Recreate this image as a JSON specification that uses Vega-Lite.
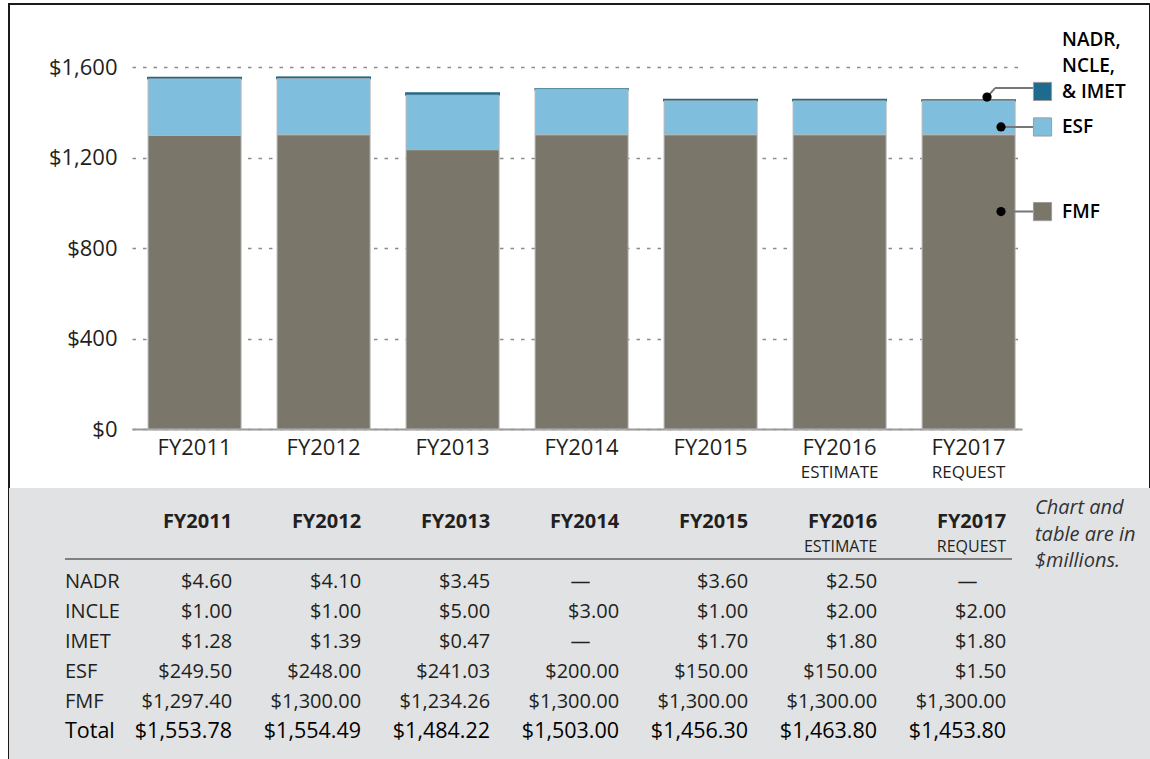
{
  "$schema": "https://vega.github.io/schema/vega-lite/v6.json",
  "width": 1141,
  "height": 755,
  "autosize": {"type": "none"},
  "padding": {"left": 9, "top": 4, "right": 0, "bottom": 0},
  "background": "white",
  "config": {
    "font": "Open Sans",
    "view": {"stroke": "#1a1a1a", "strokeWidth": 2},
    "text": {"color": "#231f20"}
  },
  "datasets": {
    "bars": [
      {"year": "FY2011", "program": "NADR", "group": "NADR, NCLE, & IMET", "value": 4.60},
      {"year": "FY2011", "program": "INCLE", "group": "NADR, NCLE, & IMET", "value": 1.00},
      {"year": "FY2011", "program": "IMET", "group": "NADR, NCLE, & IMET", "value": 1.28},
      {"year": "FY2011", "program": "ESF", "group": "ESF", "value": 249.50},
      {"year": "FY2011", "program": "FMF", "group": "FMF", "value": 1297.40},
      {"year": "FY2012", "program": "NADR", "group": "NADR, NCLE, & IMET", "value": 4.10},
      {"year": "FY2012", "program": "INCLE", "group": "NADR, NCLE, & IMET", "value": 1.00},
      {"year": "FY2012", "program": "IMET", "group": "NADR, NCLE, & IMET", "value": 1.39},
      {"year": "FY2012", "program": "ESF", "group": "ESF", "value": 248.00},
      {"year": "FY2012", "program": "FMF", "group": "FMF", "value": 1300.00},
      {"year": "FY2013", "program": "NADR", "group": "NADR, NCLE, & IMET", "value": 3.45},
      {"year": "FY2013", "program": "INCLE", "group": "NADR, NCLE, & IMET", "value": 5.00},
      {"year": "FY2013", "program": "IMET", "group": "NADR, NCLE, & IMET", "value": 0.47},
      {"year": "FY2013", "program": "ESF", "group": "ESF", "value": 241.03},
      {"year": "FY2013", "program": "FMF", "group": "FMF", "value": 1234.26},
      {"year": "FY2014", "program": "INCLE", "group": "NADR, NCLE, & IMET", "value": 3.00},
      {"year": "FY2014", "program": "ESF", "group": "ESF", "value": 200.00},
      {"year": "FY2014", "program": "FMF", "group": "FMF", "value": 1300.00},
      {"year": "FY2015", "program": "NADR", "group": "NADR, NCLE, & IMET", "value": 3.60},
      {"year": "FY2015", "program": "INCLE", "group": "NADR, NCLE, & IMET", "value": 1.00},
      {"year": "FY2015", "program": "IMET", "group": "NADR, NCLE, & IMET", "value": 1.70},
      {"year": "FY2015", "program": "ESF", "group": "ESF", "value": 150.00},
      {"year": "FY2015", "program": "FMF", "group": "FMF", "value": 1300.00},
      {"year": "FY2016", "program": "NADR", "group": "NADR, NCLE, & IMET", "value": 2.50},
      {"year": "FY2016", "program": "INCLE", "group": "NADR, NCLE, & IMET", "value": 2.00},
      {"year": "FY2016", "program": "IMET", "group": "NADR, NCLE, & IMET", "value": 1.80},
      {"year": "FY2016", "program": "ESF", "group": "ESF", "value": 150.00},
      {"year": "FY2016", "program": "FMF", "group": "FMF", "value": 1300.00},
      {"year": "FY2017", "program": "INCLE", "group": "NADR, NCLE, & IMET", "value": 2.00},
      {"year": "FY2017", "program": "IMET", "group": "NADR, NCLE, & IMET", "value": 1.80},
      {"year": "FY2017", "program": "ESF", "group": "ESF", "value": 150.00},
      {"year": "FY2017", "program": "FMF", "group": "FMF", "value": 1300.00}
    ],
    "years": [
      {"year": "FY2011", "sub": ""},
      {"year": "FY2012", "sub": ""},
      {"year": "FY2013", "sub": ""},
      {"year": "FY2014", "sub": ""},
      {"year": "FY2015", "sub": ""},
      {"year": "FY2016", "sub": "ESTIMATE"},
      {"year": "FY2017", "sub": "REQUEST"}
    ],
    "rows": [
      {"row": "NADR"}, {"row": "INCLE"}, {"row": "IMET"}, {"row": "ESF"}, {"row": "FMF"}, {"row": "Total"}
    ],
    "table": [
      {"year": "FY2011", "row": "NADR", "text": "$4.60"},
      {"year": "FY2011", "row": "INCLE", "text": "$1.00"},
      {"year": "FY2011", "row": "IMET", "text": "$1.28"},
      {"year": "FY2011", "row": "ESF", "text": "$249.50"},
      {"year": "FY2011", "row": "FMF", "text": "$1,297.40"},
      {"year": "FY2011", "row": "Total", "text": "$1,553.78"},
      {"year": "FY2012", "row": "NADR", "text": "$4.10"},
      {"year": "FY2012", "row": "INCLE", "text": "$1.00"},
      {"year": "FY2012", "row": "IMET", "text": "$1.39"},
      {"year": "FY2012", "row": "ESF", "text": "$248.00"},
      {"year": "FY2012", "row": "FMF", "text": "$1,300.00"},
      {"year": "FY2012", "row": "Total", "text": "$1,554.49"},
      {"year": "FY2013", "row": "NADR", "text": "$3.45"},
      {"year": "FY2013", "row": "INCLE", "text": "$5.00"},
      {"year": "FY2013", "row": "IMET", "text": "$0.47"},
      {"year": "FY2013", "row": "ESF", "text": "$241.03"},
      {"year": "FY2013", "row": "FMF", "text": "$1,234.26"},
      {"year": "FY2013", "row": "Total", "text": "$1,484.22"},
      {"year": "FY2014", "row": "NADR", "text": "—"},
      {"year": "FY2014", "row": "INCLE", "text": "$3.00"},
      {"year": "FY2014", "row": "IMET", "text": "—"},
      {"year": "FY2014", "row": "ESF", "text": "$200.00"},
      {"year": "FY2014", "row": "FMF", "text": "$1,300.00"},
      {"year": "FY2014", "row": "Total", "text": "$1,503.00"},
      {"year": "FY2015", "row": "NADR", "text": "$3.60"},
      {"year": "FY2015", "row": "INCLE", "text": "$1.00"},
      {"year": "FY2015", "row": "IMET", "text": "$1.70"},
      {"year": "FY2015", "row": "ESF", "text": "$150.00"},
      {"year": "FY2015", "row": "FMF", "text": "$1,300.00"},
      {"year": "FY2015", "row": "Total", "text": "$1,456.30"},
      {"year": "FY2016", "row": "NADR", "text": "$2.50"},
      {"year": "FY2016", "row": "INCLE", "text": "$2.00"},
      {"year": "FY2016", "row": "IMET", "text": "$1.80"},
      {"year": "FY2016", "row": "ESF", "text": "$150.00"},
      {"year": "FY2016", "row": "FMF", "text": "$1,300.00"},
      {"year": "FY2016", "row": "Total", "text": "$1,463.80"},
      {"year": "FY2017", "row": "NADR", "text": "—"},
      {"year": "FY2017", "row": "INCLE", "text": "$2.00"},
      {"year": "FY2017", "row": "IMET", "text": "$1.80"},
      {"year": "FY2017", "row": "ESF", "text": "$1.50"},
      {"year": "FY2017", "row": "FMF", "text": "$1,300.00"},
      {"year": "FY2017", "row": "Total", "text": "$1,453.80"}
    ]
  },
  "layer": [
    {
      "layer": [
        {
          "data": {"name": "bars"},
          "mark": {"type": "bar"},
          "encoding": {
            "x": {
              "field": "year", "type": "nominal", "title": null,
              "scale": {"domain": ["FY2011", "FY2012", "FY2013", "FY2014", "FY2015", "FY2016", "FY2017"], "range": [123, 1013], "paddingInner": 0.279, "paddingOuter": 0.089, "align": 0.7},
              "axis": {"orient": "bottom", "offset": -330, "labelAngle": 0, "labelFontSize": 22, "labelColor": "#231f20", "labelPadding": 8, "ticks": false, "tickSize": 0, "domainColor": "#9a9a9a", "domainWidth": 2, "grid": false}
            },
            "y": {
              "field": "value", "type": "quantitative", "stack": "zero", "title": null,
              "scale": {"domain": [0, 1600], "range": [425, 63], "nice": false, "zero": true},
              "axis": {"orient": "left", "offset": -123, "values": [0, 400, 800, 1200, 1600], "labelExpr": "'$' + format(datum.value, ',')", "labelFontSize": 22, "labelColor": "#231f20", "labelPadding": 15, "ticks": false, "tickSize": 0, "domain": false, "grid": true, "gridColor": "#8c8c8c", "gridDash": [3.5, 7], "gridWidth": 1.5}
            },
            "color": {"field": "group", "type": "nominal", "legend": null, "scale": {"domain": ["FMF", "ESF", "NADR, NCLE, & IMET"], "range": ["#7a766a", "#7fbfdd", "#1f6b8e"]}},
            "stroke": {"condition": {"test": "datum.group === 'NADR, NCLE, & IMET'", "value": "#1f6b8e"}, "value": "#b5b5b5"},
            "strokeWidth": {"condition": {"test": "datum.group === 'NADR, NCLE, & IMET'", "value": 1.6}, "value": 1},
            "order": {"field": "value", "sort": "descending"}
          }
        },
        {
          "data": {"name": "years"},
          "transform": [{"filter": "datum.sub !== ''"}],
          "mark": {"type": "text", "fontSize": 17, "baseline": "middle", "dy": 44},
          "encoding": {
            "x": {"field": "year", "type": "nominal", "title": null},
            "y": {"datum": 0},
            "text": {"field": "sub"}
          }
        },
        {
          "data": {"values": [{"label": "NADR,\nNCLE,\n& IMET", "group": "NADR, NCLE, & IMET"}]},
          "layer": [
            {"mark": {"type": "rule", "color": "#777777", "strokeWidth": 2, "xOffset": 18.4, "x2Offset": 26.4},
             "encoding": {"x": {"datum": "FY2017"}, "x2": {"datum": "FY2017"}, "y": {"datum": 1467}, "y2": {"datum": 1507}}},
            {"mark": {"type": "rule", "color": "#777777", "strokeWidth": 2, "xOffset": 26.4, "x2Offset": 64.4},
             "encoding": {"x": {"datum": "FY2017"}, "x2": {"datum": "FY2017"}, "y": {"datum": 1507}}},
            {"mark": {"type": "point", "filled": true, "color": "#000000", "opacity": 1, "size": 85, "xOffset": 18.4},
             "encoding": {"x": {"datum": "FY2017"}, "y": {"datum": 1467}}},
            {"mark": {"type": "point", "shape": "square", "filled": true, "opacity": 1, "size": 330, "stroke": "#9d9d9d", "strokeWidth": 1, "xOffset": 73.9},
             "encoding": {"x": {"datum": "FY2017"}, "y": {"datum": 1492}, "color": {"field": "group", "type": "nominal", "legend": null}}},
            {"mark": {"type": "text", "align": "left", "baseline": "top", "lineBreak": "\n", "lineHeight": 26, "fontSize": 19, "fontWeight": 600, "color": "#000000", "dx": 93.4, "dy": -60},
             "encoding": {"x": {"datum": "FY2017"}, "y": {"datum": 1492}, "text": {"field": "label"}}}
          ]
        },
        {
          "data": {"values": [{"label": "ESF", "group": "ESF"}]},
          "layer": [
            {"mark": {"type": "rule", "color": "#777777", "strokeWidth": 2, "xOffset": 32.4, "x2Offset": 64.4},
             "encoding": {"x": {"datum": "FY2017"}, "x2": {"datum": "FY2017"}, "y": {"datum": 1335}}},
            {"mark": {"type": "point", "filled": true, "color": "#000000", "opacity": 1, "size": 85, "xOffset": 32.4},
             "encoding": {"x": {"datum": "FY2017"}, "y": {"datum": 1335}}},
            {"mark": {"type": "point", "shape": "square", "filled": true, "opacity": 1, "size": 330, "stroke": "#9d9d9d", "strokeWidth": 1, "xOffset": 73.9},
             "encoding": {"x": {"datum": "FY2017"}, "y": {"datum": 1335}, "color": {"field": "group", "type": "nominal", "legend": null}}},
            {"mark": {"type": "text", "align": "left", "baseline": "middle", "fontSize": 19, "fontWeight": 600, "color": "#000000", "dx": 93.4},
             "encoding": {"x": {"datum": "FY2017"}, "y": {"datum": 1335}, "text": {"field": "label"}}}
          ]
        },
        {
          "data": {"values": [{"label": "FMF", "group": "FMF"}]},
          "layer": [
            {"mark": {"type": "rule", "color": "#777777", "strokeWidth": 2, "xOffset": 32.4, "x2Offset": 64.4},
             "encoding": {"x": {"datum": "FY2017"}, "x2": {"datum": "FY2017"}, "y": {"datum": 961}}},
            {"mark": {"type": "point", "filled": true, "color": "#000000", "opacity": 1, "size": 85, "xOffset": 32.4},
             "encoding": {"x": {"datum": "FY2017"}, "y": {"datum": 961}}},
            {"mark": {"type": "point", "shape": "square", "filled": true, "opacity": 1, "size": 330, "stroke": "#9d9d9d", "strokeWidth": 1, "xOffset": 73.9},
             "encoding": {"x": {"datum": "FY2017"}, "y": {"datum": 961}, "color": {"field": "group", "type": "nominal", "legend": null}}},
            {"mark": {"type": "text", "align": "left", "baseline": "middle", "fontSize": 19, "fontWeight": 600, "color": "#000000", "dx": 93.4},
             "encoding": {"x": {"datum": "FY2017"}, "y": {"datum": 961}, "text": {"field": "label"}}}
          ]
        }
      ]
    },
    {
      "layer": [
        {
          "data": {"values": [{"panel": "table"}]},
          "mark": {"type": "rect", "color": "#e1e2e4", "yOffset": -94, "y2Offset": 27},
          "encoding": {
            "y": {"datum": "NADR", "scale": {"type": "point", "domain": ["NADR", "INCLE", "IMET", "ESF", "FMF", "Total"], "range": [578, 728], "padding": 0}, "axis": null},
            "y2": {"datum": "Total"}
          }
        },
        {
          "data": {"name": "table"},
          "transform": [{"filter": "datum.text !== '—'"}],
          "mark": {"type": "text", "align": "right", "baseline": "middle", "dx": -9},
          "encoding": {
            "x": {"field": "year", "type": "nominal", "bandPosition": 1, "title": null},
            "y": {"field": "row", "type": "nominal", "title": null},
            "text": {"field": "text"},
            "size": {"condition": {"test": "datum.row === 'Total'", "value": 21.5}, "value": 20},
            "color": {"condition": {"test": "datum.row === 'Total'", "value": "#000000"}, "value": "#231f20"}
          }
        },
        {
          "data": {"name": "table"},
          "transform": [{"filter": "datum.text === '—'"}],
          "mark": {"type": "text", "align": "center", "baseline": "middle", "fontSize": 20, "dx": -1},
          "encoding": {
            "x": {"field": "year", "type": "nominal", "title": null},
            "y": {"field": "row", "type": "nominal", "title": null},
            "text": {"field": "text"}
          }
        },
        {
          "data": {"name": "rows"},
          "mark": {"type": "text", "align": "left", "baseline": "middle", "dx": -129.6},
          "encoding": {
            "x": {"datum": "FY2011"},
            "y": {"field": "row", "type": "nominal", "title": null},
            "text": {"field": "row"},
            "size": {"condition": {"test": "datum.row === 'Total'", "value": 21.5}, "value": 20},
            "color": {"condition": {"test": "datum.row === 'Total'", "value": "#000000"}, "value": "#231f20"}
          }
        },
        {
          "data": {"name": "years"},
          "mark": {"type": "text", "align": "right", "baseline": "middle", "fontSize": 20, "fontWeight": "bold", "dx": -9, "dy": -60},
          "encoding": {
            "x": {"field": "year", "type": "nominal", "bandPosition": 1, "title": null},
            "y": {"datum": "NADR"},
            "text": {"field": "year"}
          }
        },
        {
          "data": {"name": "years"},
          "transform": [{"filter": "datum.sub !== ''"}],
          "mark": {"type": "text", "align": "right", "baseline": "middle", "fontSize": 16, "dx": -9, "dy": -35},
          "encoding": {
            "x": {"field": "year", "type": "nominal", "bandPosition": 1, "title": null},
            "y": {"datum": "NADR"},
            "text": {"field": "sub"}
          }
        },
        {
          "data": {"values": [{"line": "header"}]},
          "mark": {"type": "rule", "color": "#808080", "strokeWidth": 2, "xOffset": -129.6, "x2Offset": 43.4, "yOffset": -23},
          "encoding": {
            "x": {"datum": "FY2011"},
            "x2": {"datum": "FY2017"},
            "y": {"datum": "NADR"}
          }
        },
        {
          "data": {"values": [{"note": "Chart and\ntable are in\n$millions."}]},
          "mark": {"type": "text", "align": "left", "baseline": "top", "lineBreak": "\n", "lineHeight": 26.5, "fontSize": 20, "fontStyle": "italic", "color": "#333333", "dx": 66.4, "dy": -84},
          "encoding": {
            "x": {"datum": "FY2017"},
            "y": {"datum": "NADR"},
            "text": {"field": "note"}
          }
        }
      ]
    }
  ],
  "resolve": {"scale": {"y": "independent"}, "axis": {"y": "independent"}}
}
